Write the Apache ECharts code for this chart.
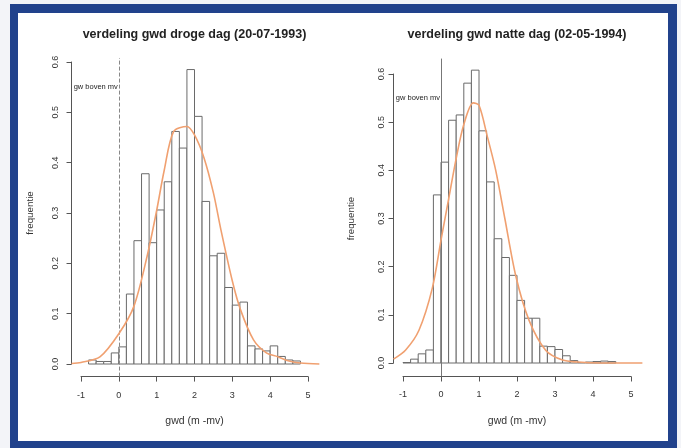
<!DOCTYPE html>
<html>
<head>
<meta charset="utf-8">
<script src="https://cdn.jsdelivr.net/npm/echarts@6/dist/echarts.min.js"></script>
<style>
  html, body { margin:0; padding:0; width:681px; height:448px; background:#f3f4f8; overflow:hidden; }
  #frame { position:absolute; left:10px; top:4px; width:667px; height:444px; box-sizing:border-box;
           border-style:solid; border-color:#21428c; border-width:9px 9px 7px 8px; background:#ffffff; }
  #chart { position:absolute; left:0; top:0; width:681px; height:448px; }
</style>
</head>
<body>
<div id="frame"></div>
<div id="chart"></div>
<script>
// ---------- data ----------
const titleLeft = 'verdeling gwd droge dag (20-07-1993)';
const titleRight = 'verdeling gwd natte dag (02-05-1994)';
const xAxisTitle = 'gwd (m -mv)';
const yAxisTitle = 'frequentie';
const markText = 'gw boven mv';
const xTickLabels = ['-1', '0', '1', '2', '3', '4', '5'];
const yTickLabels = ['0.0', '0.1', '0.2', '0.3', '0.4', '0.5', '0.6'];

// histogram bins (left edge of each bin) and densities
const leftBinEdges = [-0.8, -0.6, -0.4, -0.2, 0.0, 0.2, 0.4, 0.6, 0.8, 1.0, 1.2, 1.4, 1.6, 1.8, 2.0, 2.2, 2.4, 2.6, 2.8, 3.0, 3.2, 3.4, 3.6, 3.8, 4.0, 4.2, 4.4, 4.6, 4.8];
const leftHeights   = [0.008, 0.005, 0.005, 0.022, 0.034, 0.139, 0.245, 0.378, 0.241, 0.306, 0.362, 0.462, 0.429, 0.585, 0.492, 0.323, 0.215, 0.220, 0.152, 0.117, 0.123, 0.036, 0.030, 0.026, 0.036, 0.015, 0.008, 0.006];

const rightBinEdges = [-1.0, -0.8, -0.6, -0.4, -0.2, 0.0, 0.2, 0.4, 0.6, 0.8, 1.0, 1.2, 1.4, 1.6, 1.8, 2.0, 2.2, 2.4, 2.6, 2.8, 3.0, 3.2, 3.4, 3.6, 3.8, 4.0, 4.2, 4.4, 4.6];
const rightHeights   = [0.001, 0.008, 0.019, 0.027, 0.349, 0.417, 0.504, 0.515, 0.581, 0.608, 0.482, 0.376, 0.258, 0.219, 0.182, 0.130, 0.093, 0.093, 0.035, 0.034, 0.028, 0.015, 0.005, 0.001, 0.002, 0.003, 0.004, 0.003];

// fitted curves (x, density)
const leftCurveX = [-1.25, -1.0, -0.5, 0.0, 0.4, 0.75, 1.0, 1.2, 1.45, 1.8, 2.0, 2.25, 2.5, 2.7, 3.0, 3.22, 3.56, 3.9, 4.2, 4.5, 4.8, 5.3];
const leftCurveY = [0.001, 0.003, 0.014, 0.06, 0.115, 0.215, 0.305, 0.385, 0.462, 0.472, 0.455, 0.41, 0.34, 0.266, 0.165, 0.107, 0.048, 0.022, 0.0145, 0.006, 0.002, 0.0];
const rightCurveX = [-1.25, -0.93, -0.58, -0.23, 0.0, 0.2, 0.4, 0.6, 0.85, 1.0, 1.22, 1.44, 1.68, 1.97, 2.32, 2.76, 3.2, 3.6, 4.2, 5.3];
const rightCurveY = [0.008, 0.027, 0.068, 0.155, 0.255, 0.34, 0.425, 0.495, 0.54, 0.535, 0.47, 0.40, 0.30, 0.18, 0.088, 0.026, 0.006, 0.002, 0.0, 0.0];

const binWidth = 0.2;
const markLineX = 0;
const markTextY = 0.55;

// ---------- layout (pixels) ----------
const panels = [
  { title: titleLeft, x0: 81, x5: 308, y0: 364, y6: 62, xmin: -1.25, xmax: 5.3, ymin: -0.025, ymax: 0.608,
    edges: leftBinEdges, heights: leftHeights, cx: leftCurveX, cy: leftCurveY, dashed: true,
    yLabelMargin: 12, yNameGap: 36, titleY: 35 },
  { title: titleRight, x0: 403, x5: 631, y0: 363, y6: 74, xmin: -1.25, xmax: 5.3, ymin: -0.028, ymax: 0.632,
    edges: rightBinEdges, heights: rightHeights, cx: rightCurveX, cy: rightCurveY, dashed: false,
    yLabelMargin: 7, yNameGap: 37, titleY: 35 }
];

const FONT = '"Liberation Sans", Arial, Helvetica, sans-serif';
const grids = [], xAxes = [], yAxes = [], series = [], graphics = [];

panels.forEach((p, i) => {
  const ux = (p.x5 - p.x0) / 6;
  const uy = (p.y0 - p.y6) / 0.6;
  const dLeft = p.x0 + (p.xmin + 1) * ux;
  const dWidth = (p.xmax - p.xmin) * ux;
  const dTop = p.y0 - p.ymax * uy;
  const dHeight = (p.ymax - p.ymin) * uy;
  const base = grids.length;

  grids.push({ left: dLeft, top: dTop, width: dWidth, height: dHeight });
  grids.push({ left: p.x0, top: dTop, width: p.x5 - p.x0, height: dHeight });
  grids.push({ left: dLeft, top: p.y6, width: dWidth, height: p.y0 - p.y6 });

  xAxes.push({ gridIndex: base, type: 'value', min: p.xmin, max: p.xmax, show: false });
  yAxes.push({ gridIndex: base, type: 'value', min: p.ymin, max: p.ymax, show: false });

  xAxes.push({ gridIndex: base + 1, type: 'value', min: -1, max: 5, interval: 1, position: 'bottom',
    splitLine: { show: false },
    axisLine: { show: true, onZero: false, lineStyle: { color: '#555', width: 1 } },
    axisTick: { show: true, length: 5, lineStyle: { color: '#555' } },
    axisLabel: { color: '#333', fontSize: 9, fontFamily: FONT, margin: 14,
      formatter: v => xTickLabels[Math.round(v) + 1] },
    name: xAxisTitle, nameLocation: 'middle', nameGap: 39,
    nameTextStyle: { color: '#333', fontSize: 10.5, fontFamily: FONT } });
  yAxes.push({ gridIndex: base + 1, type: 'value', min: p.ymin, max: p.ymax, show: false });

  xAxes.push({ gridIndex: base + 2, type: 'value', min: p.xmin, max: p.xmax, show: false });
  yAxes.push({ gridIndex: base + 2, type: 'value', min: 0, max: 0.6, interval: 0.1, position: 'left',
    splitLine: { show: false },
    axisLine: { show: true, onZero: false, lineStyle: { color: '#555', width: 1 } },
    axisTick: { show: true, length: 5, lineStyle: { color: '#555' } },
    axisLabel: { color: '#333', fontSize: 9, fontFamily: FONT, rotate: 90, margin: p.yLabelMargin,
      formatter: v => yTickLabels[Math.round(v * 10)] },
    name: yAxisTitle, nameLocation: 'middle', nameGap: p.yNameGap, nameRotate: 90,
    nameTextStyle: { color: '#333', fontSize: 9.8, fontFamily: FONT } });

  const barData = p.heights.map((h, k) => [p.edges[k], p.edges[k] + binWidth, h]);
  series.push({
    type: 'custom', xAxisIndex: base, yAxisIndex: base, data: barData, silent: true,
    renderItem: (params, api) => {
      const a = api.coord([api.value(0), api.value(2)]);
      const b = api.coord([api.value(1), 0]);
      return { type: 'rect', shape: { x: a[0], y: a[1], width: b[0] - a[0], height: b[1] - a[1] },
        style: { fill: '#ffffff', stroke: '#6a6a6a', lineWidth: 1 } };
    },
    z: 2
  });

  series.push({
    type: 'line', xAxisIndex: base, yAxisIndex: base, data: [[markLineX, markTextY]],
    symbol: 'circle', symbolSize: 0.01, silent: true, z: 4,
    label: { show: true, position: 'left', distance: 1, formatter: markText, color: '#222',
      fontSize: 7.5, fontFamily: FONT },
    markLine: { silent: true, symbol: 'none', label: { show: false },
      lineStyle: { color: p.dashed ? '#888' : '#777', width: 1, type: p.dashed ? 'dashed' : 'solid' },
      data: [{ xAxis: markLineX }] }
  });

  series.push({
    type: 'line', xAxisIndex: base, yAxisIndex: base,
    data: p.cx.map((x, k) => [x, p.cy[k]]), symbol: 'none', smooth: 0.3, silent: true, z: 5,
    lineStyle: { color: '#f0a070', width: 1.6 }
  });

  graphics.push({ type: 'text', x: (p.x0 + p.x5) / 2, y: p.titleY,
    style: { text: p.title, fill: '#222', font: 'bold 12.5px ' + FONT, textAlign: 'center', textVerticalAlign: 'middle' } });
});

const chart = echarts.init(document.getElementById('chart'), null, { renderer: 'canvas' });
chart.setOption({
  backgroundColor: 'transparent',
  animation: false,
  grid: grids, xAxis: xAxes, yAxis: yAxes, series: series,
  graphic: graphics
});
</script>
</body>
</html>
